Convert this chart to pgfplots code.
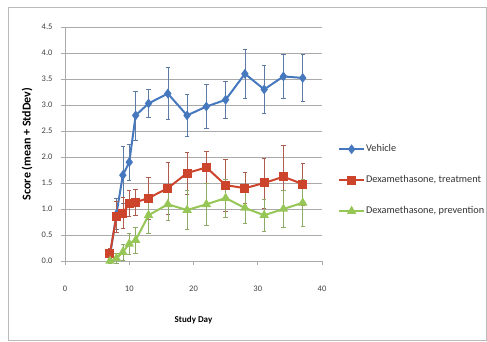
\documentclass[border=0pt]{standalone}
\usepackage{fontspec}
\setmainfont{Carlito}
\usepackage{pgfplots}
\pgfplotsset{compat=1.18}
\definecolor{cBlue}{RGB}{70,120,190}
\definecolor{cRed}{RGB}{205,68,45}
\definecolor{cGreen}{RGB}{150,198,85}
\definecolor{cGrid}{RGB}{170,170,170}
\begin{document}
\begin{tikzpicture}[x=1pt,y=1pt]
\draw[cGrid!80,line width=0.8pt] (8,2) rectangle (486.5,335);
\begin{axis}[
  at={(65pt,81pt)}, anchor=south west,
  scale only axis, width=257pt, height=234pt,
  xmin=0, xmax=40, ymin=0, ymax=4.5,
  xtick={0,10,20,30,40},
  ytick={0,0.5,1,1.5,2,2.5,3,3.5,4,4.5},
  yticklabel style={/pgf/number format/fixed,/pgf/number format/precision=1,/pgf/number format/fixed zerofill, xshift=-5pt, font=\fontsize{8.5}{9}\selectfont, text=black!75},
  xticklabel style={yshift=-17pt, font=\fontsize{8.5}{9}\selectfont, text=black!75},
  /pgf/number format/assume math mode=true,
  axis x line*=bottom, axis y line*=left,
  axis line style={cGrid, line width=0.8pt},
  tick style={cGrid, line width=0.8pt},
  tick align=outside, major tick length=4pt,
  ymajorgrids, grid style={cGrid, line width=0.8pt},
  clip=false,
  xlabel={Study Day},
  ylabel={Score (mean + StdDev)},
  every axis x label/.style={at={(axis description cs:0.5,0)}, yshift=-59pt, anchor=center, font=\bfseries\fontsize{9}{10}\selectfont},
  every axis y label/.style={at={(axis description cs:0,0.5)}, xshift=-38pt, rotate=90, anchor=center, font=\bfseries\fontsize{12}{13}\selectfont},
  legend style={at={(axis description cs:1.062,0.502)}, anchor=north west, draw=none, fill=none, inner sep=0pt, row sep=20pt,
    nodes={inner sep=1pt, text height=7pt, text depth=2pt, font=\fontsize{10.3}{11}\selectfont, text=black!80}},
  legend cell align=left,
  legend image code/.code={\draw[mark repeat=2,mark phase=2] plot coordinates {(0pt,0pt)(12.5pt,0pt)(25pt,0pt)};},
  every axis plot/.append style={line width=2pt},
]
\addplot[color=cBlue, mark=diamond*, mark size=3.3pt, mark options={fill=cBlue},
  error bars/.cd, y dir=both, y explicit, error bar style={color=cBlue!60!gray, line width=0.6pt}, error mark options={rotate=90, mark size=2.2pt, line width=0.6pt, color=cBlue!60!gray}]
  table[x=d, y=m, y error=e] {
d m e
7 0.10 0.05
8 0.90 0.30
9 1.65 0.55
10 1.90 0.35
11 2.80 0.47
13 3.03 0.27
16 3.22 0.50
19 2.80 0.40
22 2.97 0.42
25 3.10 0.36
28 3.60 0.47
31 3.30 0.46
34 3.55 0.42
37 3.52 0.45
};
\addlegendentry{Vehicle}
\addplot[color=cRed, mark=square*, mark size=3.5pt, mark options={fill=cRed},
  error bars/.cd, y dir=both, y explicit, error bar style={color=cRed!60!gray, line width=0.6pt}, error mark options={rotate=90, mark size=2.2pt, line width=0.6pt, color=cRed!60!gray}]
  table[x=d, y=m, y error=e] {
d m e
7 0.15 0.10
8 0.85 0.30
9 0.92 0.30
10 1.10 0.25
11 1.13 0.25
13 1.21 0.40
16 1.40 0.50
19 1.69 0.40
22 1.80 0.30
25 1.46 0.50
28 1.40 0.30
31 1.50 0.48
34 1.62 0.60
37 1.48 0.40
};
\addlegendentry{Dexamethasone, treatment}
\addplot[color=cGreen, mark=triangle*, mark size=3.5pt, mark options={fill=cGreen},
  error bars/.cd, y dir=both, y explicit, error bar style={color=cGreen!60!gray, line width=0.6pt}, error mark options={rotate=90, mark size=2.2pt, line width=0.6pt, color=cGreen!60!gray}]
  table[x=d, y=m, y error=e] {
d m e
7 0.00 0.05
8 0.05 0.10
9 0.17 0.15
10 0.33 0.20
11 0.40 0.25
13 0.88 0.34
16 1.09 0.30
19 0.98 0.38
22 1.09 0.40
25 1.21 0.37
28 1.02 0.30
31 0.88 0.30
34 1.00 0.35
37 1.12 0.45
};
\addlegendentry{Dexamethasone, prevention}
\end{axis}
\pgfresetboundingbox
\useasboundingbox (0,0) rectangle (487,342);
\end{tikzpicture}
\end{document}
